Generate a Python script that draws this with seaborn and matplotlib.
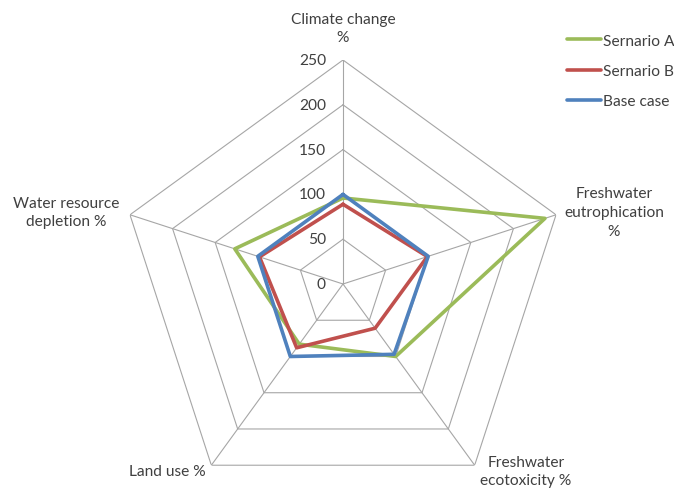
import numpy as np
import pandas as pd
import matplotlib
matplotlib.use("Agg")
import matplotlib.pyplot as plt
import matplotlib.transforms as mtransforms
from matplotlib.lines import Line2D
import seaborn as sns

# Impact categories (clockwise from the top)
categories = ["Climate change", "Freshwater eutrophication", "Freshwater ecotoxicity",
              "Land use", "Water resource depletion"]
axis_labels = ["Climate change\n%", "Freshwater\neutrophication\n%",
               "Freshwater\necotoxicity %", "Land use %", "Water resource\ndepletion %"]

# Relative impacts, % of reference
scenario_a = [96, 237, 100, 83, 127]
scenario_b = [89, 99, 61, 88, 98]
base_case = [100, 100, 97, 100, 100]

series_names = ["Sernario A", "Sernario B", "Base case"]
series_values = [scenario_a, scenario_b, base_case]
colors = {"Sernario A": "#9BBB59", "Sernario B": "#C0504D", "Base case": "#4F81BD"}

r_ticks = [0, 50, 100, 150, 200, 250]
r_max = 250

sns.set_theme(style="white")
plt.rcParams["font.family"] = ["Lato", "DejaVu Sans"]
text_color = "#404040"
fs = 11.2

n = len(categories)
theta = np.linspace(0, 2 * np.pi, n, endpoint=False)
theta_closed = np.append(theta, 2 * np.pi)

rows = []
for name, vals in zip(series_names, series_values):
    closed = list(vals) + [vals[0]]
    for t, v in zip(theta_closed, closed):
        rows.append({"theta": t, "value": v, "series": name})
df = pd.DataFrame(rows)

W, H = 674, 489
fig = plt.figure(figsize=(W / 100, H / 100), dpi=100)
cx, cy, R = 343, 285, 224
ax = fig.add_axes([(cx - R) / W, (H - cy - R) / H, 2 * R / W, 2 * R / H], projection="polar")
ax.set_theta_offset(np.pi / 2)
ax.set_theta_direction(-1)
ax.set_ylim(0, r_max)
ax.grid(False)
ax.spines["polar"].set_visible(False)
ax.set_xticks([])
ax.set_yticks([])
ax.patch.set_alpha(0)

# Pentagonal web
grid_color = "#A6A6A6"
for lvl in r_ticks[1:]:
    ax.plot(theta_closed, [lvl] * (n + 1), color=grid_color, lw=0.8, zorder=1)
for t in theta:
    ax.plot([t, t], [0, r_max], color=grid_color, lw=0.8, zorder=1)

sns.lineplot(data=df, x="theta", y="value", hue="series", hue_order=series_names,
             palette=colors, sort=False, estimator=None, lw=2.6, legend=False,
             ax=ax, zorder=3)
ax.set_xlabel("")
ax.set_ylabel("")

# Radial scale labels beside the top spoke
off = mtransforms.offset_copy(ax.transData, fig=fig, x=-17, y=0, units="dots")
for lvl in r_ticks:
    ax.text(0, lvl, str(lvl), transform=off, ha="right", va="center",
            fontsize=fs, color=text_color)

# Category labels
label_pos = [(343, 29), (614, 213), (526, 472), (167, 472), (66, 213)]
for lab, (px, py) in zip(axis_labels, label_pos):
    fig.text(px / W, 1 - py / H, lab, ha="center", va="center", fontsize=fs,
             color=text_color, linespacing=1.45)

handles = [Line2D([0], [0], color=colors[s], lw=2.6) for s in series_names]
fig.legend(handles, series_names, loc="upper left", bbox_to_anchor=(559 / W, 1 - 27 / H),
           frameon=False, fontsize=fs, handlelength=2.2, handletextpad=0.1,
           labelspacing=1.05, borderpad=0, labelcolor=text_color)

fig.savefig("out.png", dpi=100)
